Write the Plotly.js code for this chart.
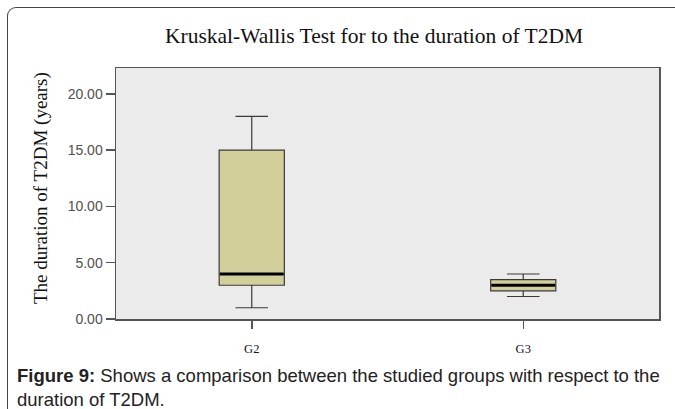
<!DOCTYPE html>
<html><head><meta charset="utf-8">
<script src="https://cdn.plot.ly/plotly-3.0.1.min.js"></script>
<style>
html,body{margin:0;padding:0;background:#fff;}
#wrap{position:relative;width:675px;height:409px;overflow:hidden;}
#frame{position:absolute;left:7px;top:7px;width:700px;height:420px;border-top:1.5px solid #444;border-left:1.5px solid #444;border-top-left-radius:9px;box-sizing:border-box;pointer-events:none;}
#chart{position:absolute;left:0;top:0;width:675px;height:409px;}
</style></head>
<body><div id="wrap"><div id="chart"></div><div id="frame"></div></div>
<script>
// Data
const groups = ["G2", "G3"];
const lowerWhisker = [1, 2];
const q1Values = [3, 2.5];
const medianValues = [4, 3];
const q3Values = [15, 3.5];
const upperWhisker = [18, 4];
const yTickValues = [0, 5, 10, 15, 20];
const yTickLabels = ["0.00", "5.00", "10.00", "15.00", "20.00"];

const W = 675, H = 409;
const M = {l: 116, r: 16, t: 68, b: 90};
const pw = W - M.l - M.r, ph = H - M.t - M.b;
const px = x => (x - M.l) / pw;
const py = y => (H - M.b - y) / ph;

const boxTrace = {
  type: 'box',
  x: groups,
  lowerfence: lowerWhisker,
  q1: q1Values,
  median: medianValues,
  q3: q3Values,
  upperfence: upperWhisker,
  fillcolor: '#d3cf9b',
  line: {color: '#3a3a3a', width: 1.2},
  whiskerwidth: 0.5,
  width: 0.24,
  boxpoints: false,
  hoverinfo: 'skip'
};
// thick median bar (line-ew marker length is 1.4 x size)
const medianTrace = {
  type: 'scatter',
  mode: 'markers',
  x: groups,
  y: medianValues,
  marker: {symbol: 'line-ew', size: 45.5, line: {color: '#000', width: 3.2}},
  hoverinfo: 'skip'
};

const layout = {
  width: W, height: H,
  margin: M,
  paper_bgcolor: '#fff',
  plot_bgcolor: '#ebebeb',
  showlegend: false,
  xaxis: {
    type: 'category',
    range: [-0.5, 1.5],
    showgrid: false, zeroline: false,
    showline: true, mirror: true, linecolor: '#555', linewidth: 1.5,
    ticks: 'outside', ticklen: 8, tickcolor: '#555', tickwidth: 1.5,
    ticklabelstandoff: 9,
    tickfont: {family: 'Liberation Serif, Times New Roman, serif', size: 12.5, color: '#111'}
  },
  yaxis: {
    range: [0, 22.3],
    showgrid: false, zeroline: false,
    showline: true, mirror: true, linecolor: '#555', linewidth: 1.5,
    ticks: 'outside', ticklen: 9, tickcolor: '#555', tickwidth: 1.5,
    tickvals: yTickValues, ticktext: yTickLabels,
    tickfont: {family: 'Liberation Sans, Arial, sans-serif', size: 14, color: '#505050'}
  },
  annotations: [
    {text: 'Kruskal-Wallis Test for to the duration of T2DM', xref: 'paper', yref: 'paper',
     x: px(374), y: py(36), xanchor: 'center', yanchor: 'middle', showarrow: false,
     font: {family: 'Liberation Serif, Times New Roman, serif', size: 21.5, color: '#111'}},
    {text: 'The duration of T2DM (years)', xref: 'paper', yref: 'paper',
     x: px(41), y: py(188), xanchor: 'center', yanchor: 'middle', textangle: -90, showarrow: false,
     font: {family: 'Liberation Serif, Times New Roman, serif', size: 19, color: '#111'}},
    {text: '<b>Figure 9:</b> Shows a comparison between the studied groups with respect to the<br>duration of T2DM.',
     xref: 'paper', yref: 'paper', x: px(15), y: py(363), xanchor: 'left', yanchor: 'top', align: 'left', showarrow: false,
     font: {family: 'Liberation Sans, Arial, sans-serif', size: 18.5, color: '#222'}}
  ]
};
Plotly.newPlot('chart', [boxTrace, medianTrace], layout, {staticPlot: true, displayModeBar: false});
</script></body></html>
